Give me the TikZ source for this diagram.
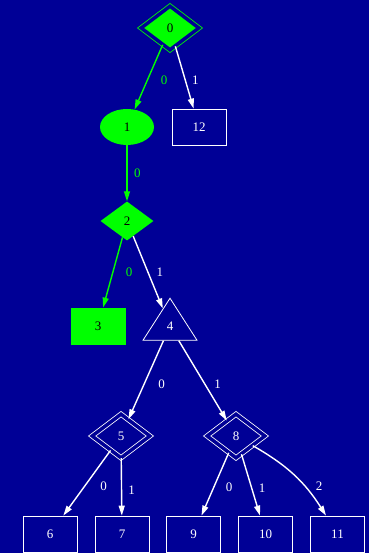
\documentclass[tikz,border=0pt]{standalone}
\usepackage{fontspec}
\setmainfont{Liberation Serif}
\usepackage{tikz}
\usetikzlibrary{shapes.geometric,arrows.meta}

\definecolor{bgblue}{RGB}{0,0,150}
\definecolor{leafgreen}{RGB}{0,255,0}

\begin{document}
\begin{tikzpicture}[x=1pt,y=1pt,
    every node/.style={font=\fontsize{13}{15}\selectfont},
    box/.style={draw=white, text=white, line width=0.8pt, minimum width=54pt, minimum height=36pt, inner sep=0pt},
    dbl/.style={diamond, draw=white, text=white, line width=0.8pt, double=bgblue, double distance=3.5pt, minimum width=58pt, minimum height=44pt, inner sep=0pt},
    link/.style={-{Triangle[length=10pt,width=6pt]}, line width=1.4pt, white},
    hotlink/.style={link, leafgreen},
    lbl/.style={inner sep=1pt, text=white},
    hotlbl/.style={lbl, text=leafgreen}]
    % Background
    \fill[bgblue] (0,0) rectangle (369,553);
    \useasboundingbox (0,0) rectangle (369,553);

    % Draw nodes
    \node[dbl, draw=leafgreen, fill=leafgreen, text=black] (n0) at (170,525) {0};
    \node[ellipse, fill=leafgreen, minimum width=54pt, minimum height=36pt, inner sep=0pt] (n1) at (127,426) {1};
    \node[box] (n12) at (199,426) {12};
    \node[diamond, fill=leafgreen, minimum width=53pt, minimum height=39pt, inner sep=0pt] (n2) at (127,332) {2};
    \node[box, draw=leafgreen, fill=leafgreen, text=black] (n3) at (98,227) {3};
    \node[isosceles triangle, isosceles triangle stretches, shape border rotate=90, draw=white, text=white, line width=0.8pt, minimum width=54pt, minimum height=42pt, inner sep=0pt] (n4) at (170,227) {4};
    \node[dbl] (n5) at (121,117) {5};
    \node[dbl] (n8) at (236,117) {8};
    \node[box] (n6) at (50,19) {6};
    \node[box] (n7) at (122,19) {7};
    \node[box] (n9) at (193.5,19) {9};
    \node[box] (n10) at (265.5,19) {10};
    \node[box] (n11) at (337.5,19) {11};

    % Draw edges
    \draw[hotlink] (n0) -- node[hotlbl, pos=0.55, right=12pt] {0} (n1);
    \draw[link] (n0) -- node[lbl, pos=0.55, right=5pt] {1} (n12);
    \draw[hotlink] (n1) -- node[hotlbl, right=5.5pt] {0} (n2);
    \draw[hotlink] (n2) -- node[hotlbl, right=11.5pt] {0} (n3);
    \draw[link] (n2) -- node[lbl, right=7pt] {1} (n4);
    \draw[link] (n4) -- node[lbl, pos=0.55, right=12.5pt] {0} (n5);
    \draw[link] (n4) -- node[lbl, pos=0.55, right=7.5pt] {1} (n8);
    \draw[link] (n5) -- node[lbl, pos=0.55, right=14pt] {0} (n6);
    \draw[link] (n5) -- node[lbl, pos=0.55, right=5pt] {1} (n7);
    \draw[link] (n8) -- node[lbl, pos=0.55, right=10.5pt] {0} (n9);
    \draw[link] (n8) -- node[lbl, pos=0.55, right=5.5pt] {1} (n10);
    \draw[link] (n8) to[bend left=14] node[lbl, pos=0.65, right=10pt] {2} (n11);
\end{tikzpicture}
\end{document}
